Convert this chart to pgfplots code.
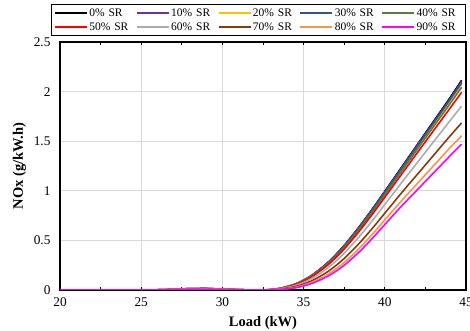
\documentclass[border=0pt]{standalone}
\usepackage{fontspec}
\setmainfont{Liberation Serif}
\usepackage{pgfplots}
\usepackage{pgfplotstable}
\pgfplotsset{compat=1.18}
\definecolor{c0}{HTML}{000000}
\definecolor{c1}{HTML}{7030A0}
\definecolor{c2}{HTML}{FFC000}
\definecolor{c3}{HTML}{2F5597}
\definecolor{c4}{HTML}{548235}
\definecolor{c5}{HTML}{FF0000}
\definecolor{c6}{HTML}{ADADAD}
\definecolor{c7}{HTML}{843C0C}
\definecolor{c8}{HTML}{F79646}
\definecolor{c9}{HTML}{FF00FF}
\definecolor{gridc}{HTML}{D9D9D9}
\pgfplotstableread{
x s0 s1 s2 s3 s4 s5 s6 s7 s8 s9
20 0 0 0 0 0 0 0 0 0 0
22 0 0 0 0 0 0 0 0 0 0
24 0 0 0 0 0 0 0 0 0 0
26 0.002 0.002 0.002 0.002 0.002 0.002 0.002 0.001 0.001 0.001
27 0.007 0.007 0.007 0.007 0.007 0.007 0.006 0.005 0.005 0.004
28 0.014 0.014 0.014 0.014 0.014 0.013 0.012 0.010 0.009 0.008
29 0.015 0.015 0.015 0.015 0.015 0.014 0.013 0.011 0.010 0.009
30 0.009 0.009 0.009 0.009 0.009 0.008 0.008 0.007 0.006 0.005
31 0.003 0.003 0.003 0.003 0.003 0.003 0.003 0.002 0.002 0.002
32 0 0 0 0 0 0 0 0 0 0
33 0.005 0.005 0.005 0.005 0.005 0.004 0.003 0.002 0.002 0.001
34 0.035 0.035 0.034 0.034 0.033 0.031 0.026 0.020 0.015 0.012
35 0.100 0.099 0.097 0.098 0.094 0.089 0.076 0.060 0.048 0.040
36 0.210 0.208 0.204 0.206 0.199 0.190 0.166 0.137 0.115 0.100
37 0.360 0.357 0.350 0.354 0.342 0.329 0.293 0.248 0.214 0.190
38 0.550 0.545 0.537 0.542 0.526 0.508 0.459 0.398 0.352 0.320
39 0.765 0.759 0.749 0.755 0.735 0.713 0.652 0.577 0.520 0.480
40 0.995 0.988 0.976 0.983 0.960 0.934 0.862 0.774 0.707 0.660
41 1.230 1.222 1.208 1.216 1.189 1.159 1.075 0.973 0.894 0.840
42 1.465 1.456 1.439 1.449 1.418 1.383 1.284 1.165 1.073 1.010
43 1.700 1.690 1.670 1.682 1.646 1.606 1.494 1.357 1.252 1.180
44 1.935 1.923 1.902 1.915 1.874 1.829 1.703 1.549 1.431 1.350
44.73 2.115 2.102 2.073 2.087 2.043 1.993 1.854 1.684 1.555 1.470
}\datatable
\begin{document}
\begin{tikzpicture}
\useasboundingbox (-60pt,-41pt) rectangle (410pt,290pt);
\begin{axis}[
  at={(0,0)}, anchor=south west,
  scale only axis, width=406pt, height=248pt,
  xmin=20, xmax=45, ymin=0, ymax=2.5,
  xtick={20,25,...,45}, minor xtick={22.5,27.5,32.5,37.5,42.5},
  ytick={0,0.5,...,2.5},
  /pgf/number format/assume math mode=true,
  tick label style={font=\fontsize{13.3}{15}\selectfont},
  yticklabel style={xshift=-6pt},
  xticklabel style={yshift=-4pt},
  xmajorgrids, ymajorgrids,
  major grid style={gridc, line width=0.8pt},
  axis line style={line width=1.3pt},
  xtick align=inside,
  major x tick style={black, line width=1pt},
  minor x tick style={black, line width=1pt},
  major tick length=3.5pt, minor tick length=3.5pt,
  ytick style={draw=none},
  xlabel={\textbf{Load (kW)}},
  ylabel={\textbf{NOx (g/kW.h)}},
  label style={font=\fontsize{14.5}{16}\selectfont},
  xlabel style={yshift=-3pt},
  ylabel style={yshift=1pt},
  legend columns=5,
  legend style={at={(1,1)}, anchor=south east, yshift=6pt,
    draw=black, line width=1.4pt, inner sep=2.5pt,
    font=\fontsize{11.5}{13}\selectfont,
    nodes={text width=45pt, inner sep=1.2pt, align=left},
    row sep=2.5pt},
  legend image code/.code={\draw[#1, line width=2.4pt] (0pt,0pt) -- (32pt,0pt);},
  every axis plot/.append style={line width=1.6pt, smooth, tension=0.8, no marks},
]
\addplot[c0] table[x=x,y=s0]{\datatable};
\addplot[c1] table[x=x,y=s1]{\datatable};
\addplot[c2] table[x=x,y=s2]{\datatable};
\addplot[c3] table[x=x,y=s3]{\datatable};
\addplot[c4] table[x=x,y=s4]{\datatable};
\addplot[c5] table[x=x,y=s5]{\datatable};
\addplot[c6] table[x=x,y=s6]{\datatable};
\addplot[c7] table[x=x,y=s7]{\datatable};
\addplot[c8] table[x=x,y=s8]{\datatable};
\addplot[c9] table[x=x,y=s9]{\datatable};
\legend{0\% SR,10\% SR,20\% SR,30\% SR,40\% SR,50\% SR,60\% SR,70\% SR,80\% SR,90\% SR}
\end{axis}
\end{tikzpicture}
\end{document}
